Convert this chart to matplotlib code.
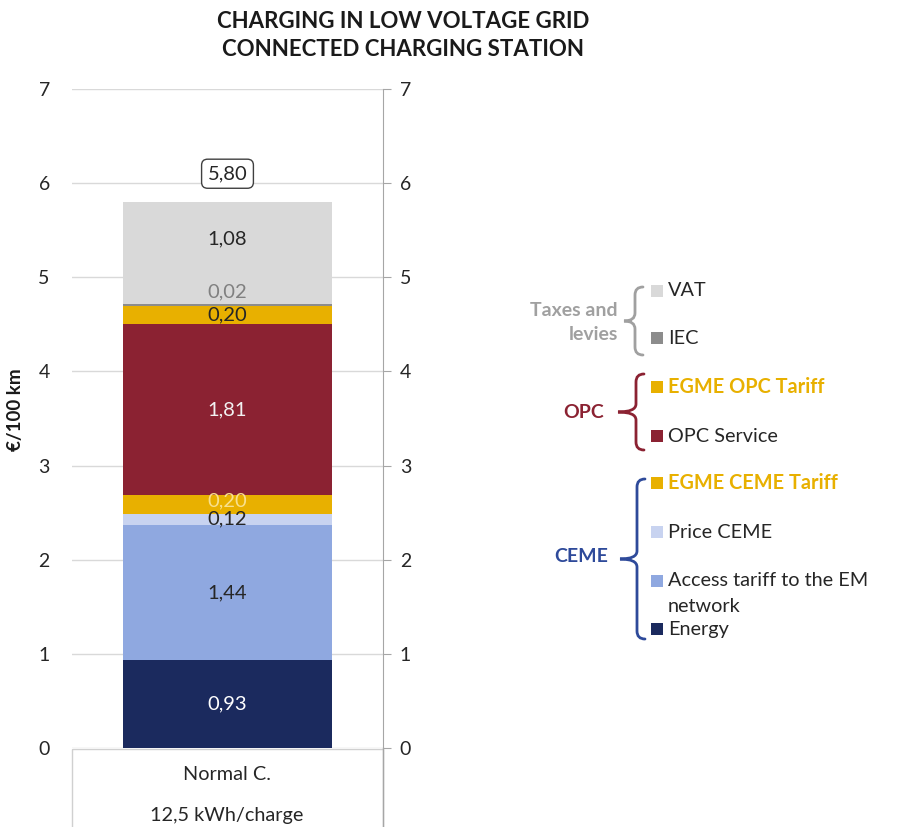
import matplotlib
matplotlib.use("Agg")
import matplotlib.pyplot as plt
import numpy as np
from matplotlib.path import Path
from matplotlib.patches import PathPatch, Rectangle

plt.rcParams['font.family'] = ['Lato', 'DejaVu Sans']

# data, bottom to top
segments = ['Energy', 'Access tariff to the EM\nnetwork', 'Price CEME', 'EGME CEME Tariff',
            'OPC Service', 'EGME OPC Tariff', 'IEC', 'VAT']
values = [0.93, 1.44, 0.12, 0.20, 1.81, 0.20, 0.02, 1.08]
value_labels = ['0,93', '1,44', '0,12', '0,20', '1,81', '0,20', '0,02', '1,08']
total_label = '5,80'
category = 'Normal C.'
category_sub = '12,5 kWh/charge'

colors = ['#1B2A5E', '#8FA8E0', '#C8D3F0', '#E8B000', '#8B2232', '#E8B000', '#8C8C8C', '#D9D9D9']
label_colors = ['white', '#262626', '#262626', '#F8E08E', '#F2F2F2', '#262626', '#808080', '#262626']
label_shift = [0, 0, 0, 0.03, 0, 0, 0.14, 0.15]

W, H = 909, 827
fig = plt.figure(figsize=(W / 100, H / 100), dpi=100)
ax = fig.add_axes([72 / W, (H - 748) / H, 311 / W, (748 - 89) / H])

bottom = 0
for v, c, lab, lc, sh in zip(values, colors, value_labels, label_colors, label_shift):
    ax.bar(0, v, bottom=bottom, width=0.672, color=c, zorder=3)
    ax.text(0, bottom + v / 2 + sh, lab, ha='center', va='center', fontsize=14.5, color=lc, zorder=4)
    bottom += v
ax.text(0, bottom + 0.3, total_label, ha='center', va='center', fontsize=14.5, color='#262626',
        bbox=dict(boxstyle='round,pad=0.3,rounding_size=0.3', fc='white', ec='#404040', lw=1), zorder=4)

ax.set_xlim(-0.5, 0.5)
ax.set_ylim(0, 7)
ax.set_yticks(range(8))
ax.set_xticks([])
ax.grid(axis='y', color='#D9D9D9', lw=1, zorder=0)
for s in ['top', 'left', 'bottom', 'right']:
    ax.spines[s].set_visible(False)

# right-hand axis with the same scale
ax2 = ax.twinx()
ax2.set_ylim(ax.get_ylim())
ax2.set_yticks(range(8))
for s in ['top', 'left', 'bottom']:
    ax2.spines[s].set_visible(False)
ax2.spines['right'].set_color('#A6A6A6')
ax2.tick_params(axis='y', direction='out', length=6, color='#A6A6A6', labelsize=14,
                labelcolor='#262626', pad=6)
ax.tick_params(axis='y', left=False, length=0, labelsize=14, labelcolor='#262626', pad=16)

# overlay for annotations in pixel coordinates
ov = fig.add_axes([0, 0, 1, 1], facecolor='none')
ov.set_xlim(0, W)
ov.set_ylim(H, 0)
ov.axis('off')

ov.text(403, 22, 'CHARGING IN LOW VOLTAGE GRID', ha='center', va='center', fontsize=16, fontweight='bold', color='#1a1a1a')
ov.text(403, 50, 'CONNECTED CHARGING STATION', ha='center', va='center', fontsize=16, fontweight='bold', color='#1a1a1a')
ov.text(16, 410, '€/100 km', rotation=90, ha='center', va='center', fontsize=13.5, fontweight='bold', color='#1a1a1a')

# category box under the axis
ov.add_patch(Rectangle((72, 749), 311, 100, fill=False, ec='#D0D0D0', lw=1))
ov.plot([383, 383], [748, 827], color='#A6A6A6', lw=1)
ov.text(227, 775, category, ha='center', va='center', fontsize=14.3, color='#262626')
ov.text(227, 815, category_sub, ha='center', va='center', fontsize=14.3, color='#262626')

# legend
leg_y = [629, 581, 532, 483, 436, 387, 338, 291]
for name, c, y in zip(segments, colors, leg_y):
    ov.add_patch(Rectangle((651, y - 6), 12, 12, color=c, lw=0))
    gold = name.startswith('EGME')
    if '\n' in name:
        l1, l2 = name.split('\n')
        ov.text(668, y, l1, ha='left', va='center', fontsize=14.3, color='#262626')
        ov.text(668, y + 25, l2, ha='left', va='center', fontsize=14.3, color='#262626')
    else:
        ov.text(668, y, name, ha='left', va='center', fontsize=14.3,
                color='#E8B000' if gold else '#262626', fontweight='bold' if gold else 'normal')


def brace(x, ytop, ybot, tip, color):
    ymid = (ytop + ybot) / 2
    r = 8
    verts = [(x + r, ytop), (x, ytop), (x, ytop + r),
             (x, ymid - r), (x, ymid), (tip, ymid),
             (x, ymid), (x, ymid + r),
             (x, ybot - r), (x, ybot), (x + r, ybot)]
    codes = [Path.MOVETO, Path.CURVE3, Path.CURVE3,
             Path.LINETO, Path.CURVE3, Path.CURVE3,
             Path.CURVE3, Path.CURVE3,
             Path.LINETO, Path.CURVE3, Path.CURVE3]
    ov.add_patch(PathPatch(Path(verts, codes), fill=False, ec=color, lw=2, capstyle='round'))


brace(635, 287, 355, 624, '#A0A0A0')
brace(636, 374, 450, 618, '#8B2232')
brace(637, 479, 639, 620, '#2E4A9A')

ov.text(618, 310, 'Taxes and', ha='right', va='center', fontsize=14, fontweight='bold', color='#A0A0A0')
ov.text(618, 335, 'levies', ha='right', va='center', fontsize=14, fontweight='bold', color='#A0A0A0')
ov.text(584, 412, 'OPC', ha='center', va='center', fontsize=14, fontweight='bold', color='#8B2232')
ov.text(581, 557, 'CEME', ha='center', va='center', fontsize=14, fontweight='bold', color='#2E4A9A')

fig.savefig('out.png', dpi=100)
